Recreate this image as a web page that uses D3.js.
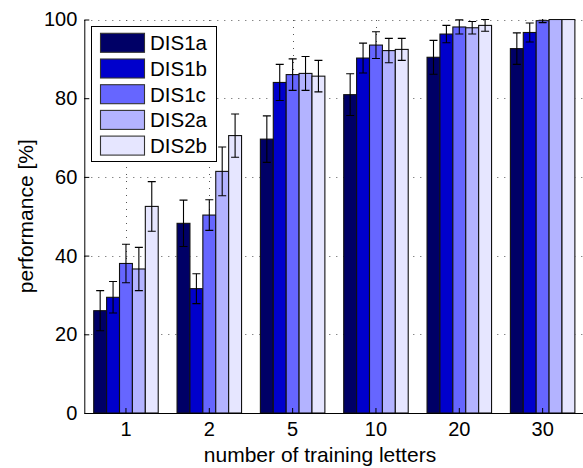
<!DOCTYPE html>
<html>
<head>
<meta charset="utf-8">
<script src="https://cdn.jsdelivr.net/npm/d3@7"></script>
<style>
  body { margin: 0; background: #fff; }
  text { font-family: "Liberation Sans", Arial, sans-serif; fill: #000; }
</style>
</head>
<body>
<div id="chart"></div>
<script>
// groups on the x axis
const categories = ["1", "2", "5", "10", "20", "30"];
const seriesNames = ["DIS1a", "DIS1b", "DIS1c", "DIS2a", "DIS2b"];
const seriesColors = ["#000066", "#0000cc", "#6666ff", "#b3b3ff", "#e6e6ff"];

// mean performance [%] per series
const dis1a = [26.0, 48.2, 69.6, 80.9, 90.4, 92.6];
const dis1b = [29.4, 31.6, 84.0, 90.2, 96.3, 96.7];
const dis1c = [38.0, 50.3, 86.0, 93.5, 98.1, 99.7];
const dis2a = [36.6, 61.4, 86.3, 92.1, 97.9, 100];
const dis2b = [52.5, 70.5, 85.6, 92.4, 98.5, 100];

// error bar half-lengths
const err1a = [5.1, 5.9, 5.9, 5.3, 4.3, 4.0];
const err1b = [4.0, 3.8, 4.6, 3.8, 2.2, 2.4];
const err1c = [4.9, 3.9, 4.0, 3.4, 1.8, 0.5];
const err2a = [5.5, 6.2, 4.3, 3.1, 1.6, 0];
const err2b = [6.3, 5.5, 4.0, 2.8, 1.5, 0];

const yTicks = [0, 20, 40, 60, 80, 100];

const values = [dis1a, dis1b, dis1c, dis2a, dis2b];
const errors = [err1a, err1b, err1c, err2a, err2b];

const width = 583, height = 468;
const mLeft = 84.3, mRight = 584.3, mTop = 19.5, mBottom = 413;

const svg = d3.select("#chart").append("svg")
    .attr("width", width)
    .attr("height", height);

const x0 = d3.scaleBand().domain(categories).range([mLeft, mRight]).padding(0);
const bw = x0.bandwidth();
const gw = bw * 0.774;
const x1 = d3.scaleBand().domain(seriesNames).range([(bw - gw) / 2, (bw + gw) / 2]).padding(0);
const y = d3.scaleLinear().domain([0, 100]).range([mBottom, mTop]);
const color = d3.scaleOrdinal().domain(seriesNames).range(seriesColors);

svg.append("clipPath").attr("id", "plot")
    .append("rect")
    .attr("x", mLeft).attr("y", mTop - 0.5)
    .attr("width", mRight - mLeft).attr("height", mBottom - mTop + 1);

// dotted grid (behind bars)
const grid = svg.append("g")
    .attr("stroke", "#555")
    .attr("stroke-width", 1)
    .attr("stroke-dasharray", "1,6");

grid.selectAll("line.h")
    .data(yTicks.filter(d => d > 0))
    .join("line")
    .attr("class", "h")
    .attr("x1", mLeft).attr("x2", mRight)
    .attr("y1", d => Math.round(y(d)) + 0.5)
    .attr("y2", d => Math.round(y(d)) + 0.5);

grid.selectAll("line.v")
    .data(categories)
    .join("line")
    .attr("class", "v")
    .attr("x1", d => Math.round(x0(d) + bw / 2) + 0.5)
    .attr("x2", d => Math.round(x0(d) + bw / 2) + 0.5)
    .attr("y1", mBottom).attr("y2", mTop);

// rows: one entry per (group, series)
const rows = [];
categories.forEach((c, i) => {
    seriesNames.forEach((s, j) => {
        rows.push({ cat: c, name: s, value: values[j][i], err: errors[j][i] });
    });
});

const plot = svg.append("g").attr("clip-path", "url(#plot)");

plot.selectAll("rect.bar")
    .data(rows)
    .join("rect")
    .attr("class", "bar")
    .attr("x", d => x0(d.cat) + x1(d.name))
    .attr("y", d => y(d.value))
    .attr("width", x1.bandwidth())
    .attr("height", d => y(0) - y(d.value))
    .attr("fill", d => color(d.name))
    .attr("stroke", "#111")
    .attr("stroke-width", 1.1);

// error bars
const eb = plot.append("g")
    .attr("stroke", "#000")
    .attr("stroke-width", 1.1);

const ebRows = rows.filter(d => d.err > 0);
const cx = d => x0(d.cat) + x1(d.name) + x1.bandwidth() / 2;

eb.selectAll("line.stem")
    .data(ebRows)
    .join("line")
    .attr("class", "stem")
    .attr("x1", cx).attr("x2", cx)
    .attr("y1", d => y(d.value - d.err))
    .attr("y2", d => y(d.value + d.err));

eb.selectAll("line.capT")
    .data(ebRows)
    .join("line")
    .attr("class", "capT")
    .attr("x1", d => cx(d) - 4).attr("x2", d => cx(d) + 4)
    .attr("y1", d => y(d.value + d.err))
    .attr("y2", d => y(d.value + d.err));

eb.selectAll("line.capB")
    .data(ebRows)
    .join("line")
    .attr("class", "capB")
    .attr("x1", d => cx(d) - 4).attr("x2", d => cx(d) + 4)
    .attr("y1", d => y(d.value - d.err))
    .attr("y2", d => y(d.value - d.err));

// axes
const yAxis = svg.append("g")
    .attr("transform", `translate(${mLeft},0)`)
    .call(d3.axisLeft(y).tickValues(yTicks).tickSizeInner(-5).tickSizeOuter(0).tickPadding(7));

const xAxis = svg.append("g")
    .attr("transform", `translate(0,${mBottom})`)
    .call(d3.axisBottom(x0).tickSizeInner(-5).tickSizeOuter(0).tickPadding(9));

[yAxis, xAxis].forEach(a => {
    a.select(".domain").attr("stroke", "#000").attr("stroke-width", 1);
    a.selectAll(".tick line").attr("stroke", "#000");
    a.selectAll(".tick text").style("font-size", "20px").attr("fill", "#000");
});

// axis labels
svg.append("text")
    .attr("x", 320)
    .attr("y", 462)
    .attr("text-anchor", "middle")
    .style("font-size", "21px")
    .text("number of training letters");

svg.append("text")
    .attr("transform", `translate(33,${(mTop + mBottom) / 2}) rotate(-90)`)
    .attr("text-anchor", "middle")
    .style("font-size", "21px")
    .text("performance [%]");

// legend
const legend = svg.append("g");
legend.append("rect")
    .attr("x", 91.5).attr("y", 26.5)
    .attr("width", 125).attr("height", 135)
    .attr("fill", "#fff")
    .attr("stroke", "#000");

const item = legend.selectAll("g.item")
    .data(seriesNames)
    .join("g")
    .attr("class", "item")
    .attr("transform", (d, i) => `translate(0,${33.3 + i * 25.7})`);

item.append("rect")
    .attr("x", 100.5).attr("y", 0)
    .attr("width", 44).attr("height", 19)
    .attr("fill", d => color(d))
    .attr("stroke", "#333")
    .attr("stroke-width", 1.1);

item.append("text")
    .attr("x", 150).attr("y", 17)
    .style("font-size", "20.5px")
    .text(d => d);
</script>
</body>
</html>
